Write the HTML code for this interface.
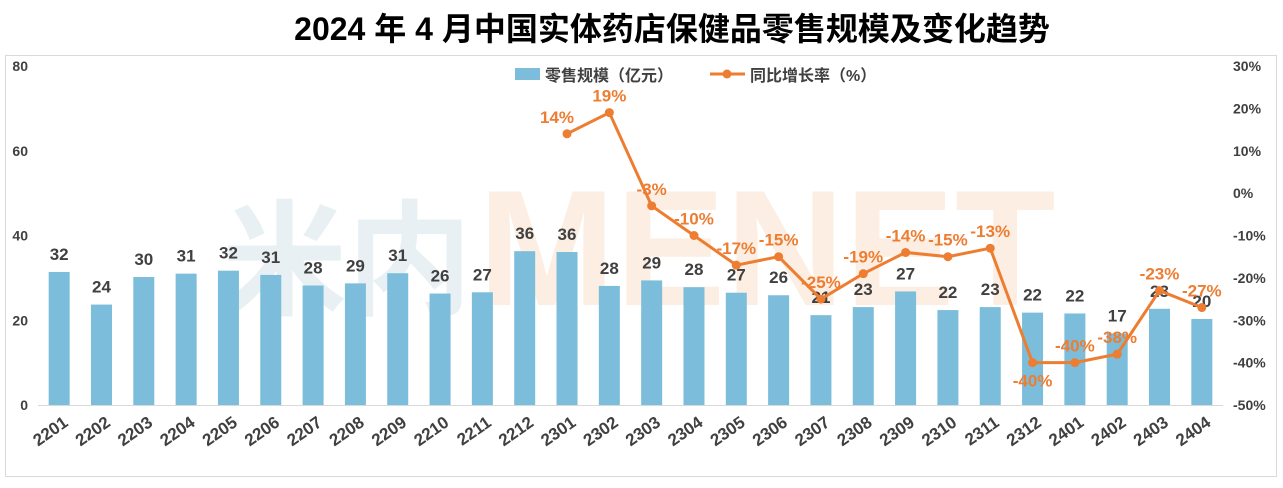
<!DOCTYPE html>
<html><head><meta charset="utf-8"><style>
body{margin:0;background:#fff;width:1283px;height:483px;overflow:hidden;font-family:"Liberation Sans","Noto Sans CJK SC",sans-serif}
</style></head><body>
<svg id="c" width="1283" height="483" xmlns="http://www.w3.org/2000/svg">
<text x="672" y="40" text-anchor="middle" font-size="32" font-weight="bold" fill="#000" font-family="Liberation Sans,Noto Sans CJK SC,sans-serif">2024 年 4 月中国实体药店保健品零售规模及变化趋势</text>
<rect x="5.5" y="55.5" width="1271" height="421" fill="none" stroke="#d9d9d9"/>
<text x="222" y="305" font-size="125" font-weight="bold" fill="#c9dbe6" opacity="0.4" font-family="Noto Sans CJK SC,sans-serif">米内</text>
<text x="478" y="305" font-size="165" font-weight="bold" fill="#f7c9a0" opacity="0.3">MENET</text>
<g id="g"></g>
</svg>
<script>
const categories=["2201","2202","2203","2204","2205","2206","2207","2208","2209","2210","2211","2212","2301","2302","2303","2304","2305","2306","2307","2308","2309","2310","2311","2312","2401","2402","2403","2404"];
const salesValues=[31.4,23.7,30.2,31.0,31.7,30.7,28.2,28.7,31.1,26.3,26.6,36.3,36.1,28.1,29.4,27.8,26.5,25.9,21.2,23.1,26.8,22.4,23.1,21.8,21.6,16.9,22.7,20.3];
const salesLabels=["32","24","30","31","32","31","28","29","31","26","27","36","36","28","29","28","27","26","21","23","27","22","23","22","22","17","23","20"];
const growthStart=12;
const growthValues=[14,19,-3,-10,-17,-15,-25,-19,-14,-15,-13,-40,-40,-38,-23,-27];
const leftTicks=[0,20,40,60,80];
const rightTicks=[30,20,10,0,-10,-20,-30,-40,-50];
const NS="http://www.w3.org/2000/svg";
const g=document.getElementById('g');
const X0=38,X1=1223,Y0=405,Y1=66;
const step=(X1-X0)/categories.length;
const xc=i=>X0+step*(i+0.5);
const yL=v=>Y0-(v/80)*(Y0-Y1);
const yR=v=>Y0-((v+50)/80)*(Y0-Y1);
function el(t,a,txt){const e=document.createElementNS(NS,t);for(const k in a)e.setAttribute(k,a[k]);if(txt!==undefined)e.textContent=txt;g.appendChild(e);return e;}
let e;
e=el('line',{x1:X0,y1:Y0+0.5,x2:X1,y2:Y0+0.5,stroke:'#d9d9d9'});


leftTicks.forEach(v=>{e=el('text',{x:28,y:yL(v)+5,'text-anchor':'end','font-size':14,'font-weight':'bold',fill:'#404040'},v);

});
rightTicks.forEach(v=>{e=el('text',{x:1233,y:yR(v)+5,'font-size':14,'font-weight':'bold',fill:'#404040'},v+'%');

});
categories.forEach((c,i)=>{
 const x=xc(i),v=salesValues[i];
 e=el('rect',{x:x-10.5,y:yL(v),width:21,height:Y0-yL(v),fill:'#7bbddb'});
 
 
 e=el('text',{x:x,y:yL(v)-12,'text-anchor':'middle','font-size':17,'font-weight':'bold',fill:'#404040'},salesLabels[i]);
 
 
 e=el('text',{x:0,y:0,'text-anchor':'end','font-size':17,'font-weight':'bold',fill:'#404040',transform:`translate(${x+10},${Y0+20}) rotate(-35)`},c);
 
 
});
const pts=growthValues.map((v,j)=>[xc(growthStart+j),yR(v)]);
e=el('polyline',{points:pts.map(p=>p.join(',')).join(' '),fill:'none',stroke:'#ed7d31','stroke-width':3});


growthValues.forEach((v,j)=>{
 const [x,y]=pts[j];
 e=el('circle',{cx:x,cy:y,r:4.5,fill:'#ed7d31'});
 
 
 const below=(j===11);
 e=el('text',{x:x-(j===0?10:0),y:below?y+24:y-11,'text-anchor':'middle','font-size':17,'font-weight':'bold',fill:'#ed7d31'},v+'%');
 
 
});
e=el('rect',{x:515,y:68,width:25,height:12,fill:'#7bbddb'});


e=el('text',{x:545,y:81,'font-size':16,'font-weight':'bold',fill:'#404040'},'零售规模（亿元）');


e=el('line',{x1:710,y1:74,x2:745,y2:74,stroke:'#ed7d31','stroke-width':3});


e=el('circle',{cx:727,cy:74,r:4.5,fill:'#ed7d31'});


e=el('text',{x:750,y:81,'font-size':16,'font-weight':'bold',fill:'#404040'},'同比增长率（%）');


</script>
</body></html>
